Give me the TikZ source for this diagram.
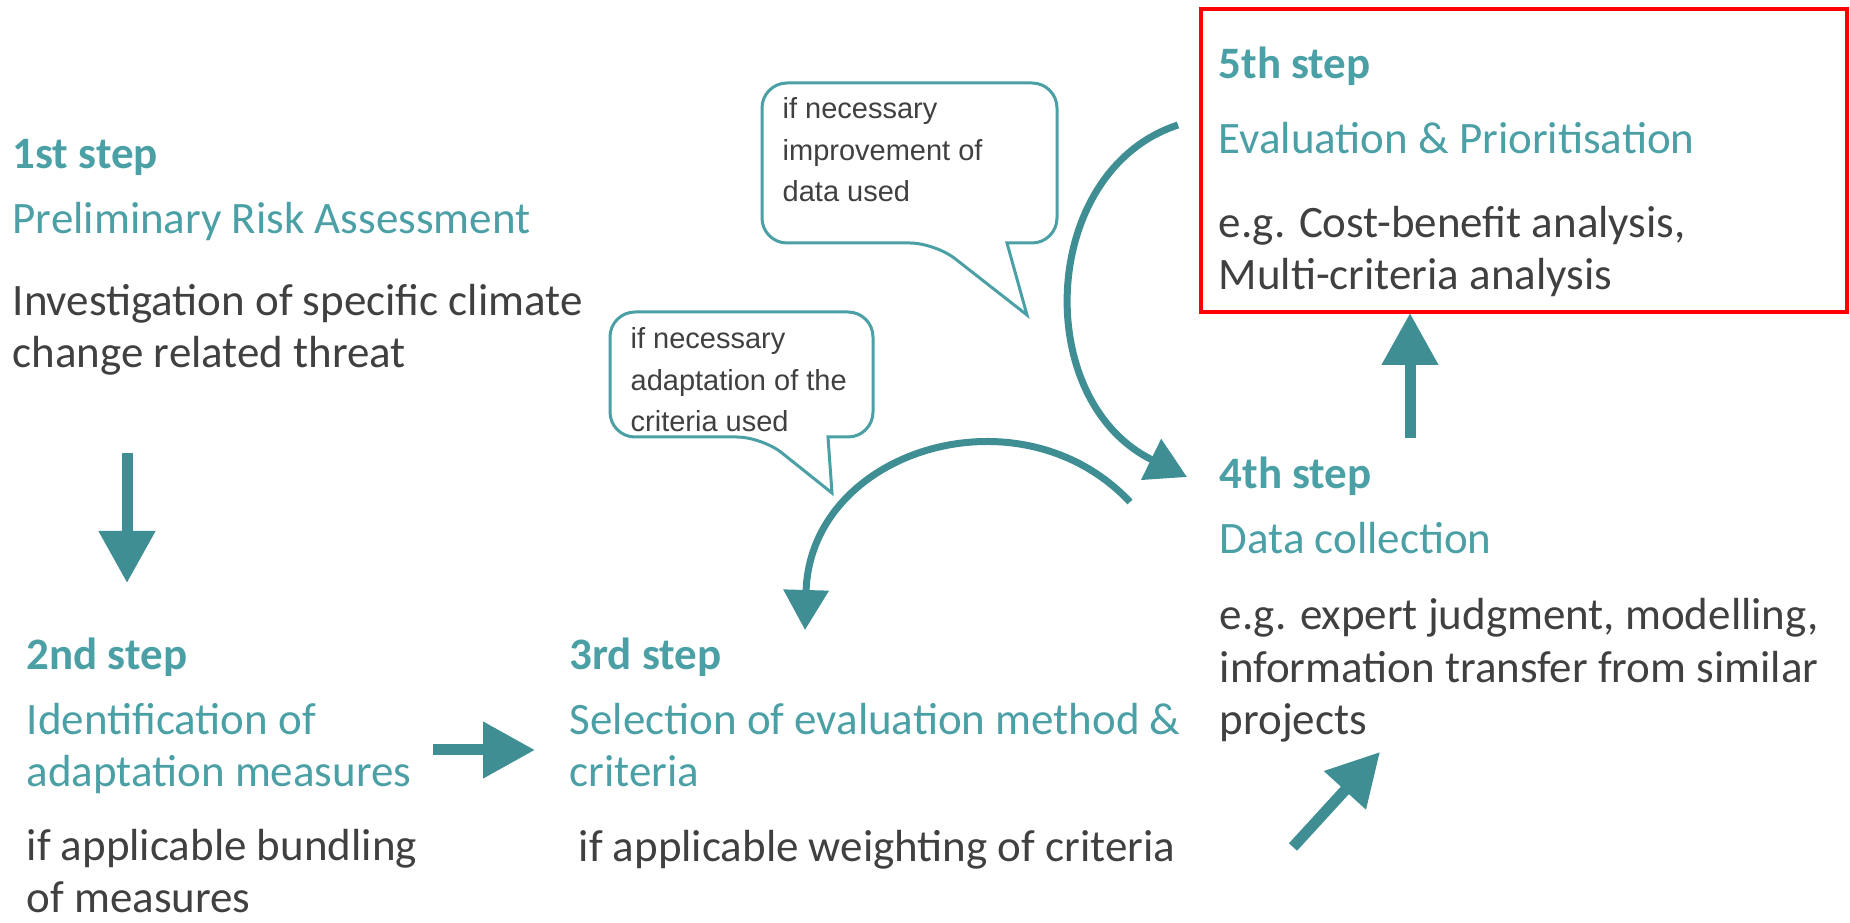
\documentclass[tikz,border=0pt]{standalone}
\usepackage{fontspec}
\setmainfont{Carlito}
\newfontfamily\notefont{Liberation Sans}
\usetikzlibrary{arrows.meta}

\definecolor{stepteal}{RGB}{75,160,166}
\definecolor{textgray}{RGB}{64,64,64}
\definecolor{arrowteal}{RGB}{62,142,148}

\tikzset{
  stephead/.style={anchor=base west, inner sep=0pt, text=stepteal,
    font=\bfseries\fontsize{12.8}{15}\selectfont},
  stepname/.style={anchor=base west, inner sep=0pt, text=stepteal, align=left,
    font=\fontsize{12.8}{15}\selectfont},
  stepinfo/.style={anchor=base west, inner sep=0pt, text=textgray, align=left,
    font=\fontsize{12.8}{15}\selectfont},
  notebox/.style={draw=stepteal, line width=0.3mm, fill=white},
  notetext/.style={anchor=base west, inner sep=0pt, text=textgray, align=left,
    font=\notefont\fontsize{8.25}{11.9}\selectfont},
  bigarrow/.style={draw=arrowteal, line width=1.1mm,
    -{Triangle[length=5.2mm,width=5.4mm]}},
  bendarrow/.style={draw=arrowteal, line width=0.7mm,
    -{Triangle[length=4mm,width=4.4mm]}}
}

\begin{document}
\begin{tikzpicture}[x=0.1mm, y=-0.1mm]
  \useasboundingbox (0,0) rectangle (1850,923);

  % step 1 (multi-line nodes sit on their last baseline)
  \node[stephead] (s1h) at (12,169) {1st step};
  \node[stepname] (s1t) at (12,234) {Preliminary Risk Assessment};
  \node[stepinfo] (s1d) at (12,368) {Investigation of specific climate\\change related threat};

  % step 2
  \node[stephead] (s2h) at (26,670) {2nd step};
  \node[stepname] (s2t) at (26,787) {Identification of\\adaptation measures};
  \node[stepinfo] (s2d) at (26,913) {if applicable bundling\\of measures};

  % step 3
  \node[stephead] (s3h) at (569,670) {3rd step};
  \node[stepname] (s3t) at (569,787) {Selection of evaluation method \&\\criteria};
  \node[stepinfo] (s3d) at (578,861) {if applicable weighting of criteria};

  % step 4
  \node[stephead] (s4h) at (1219,489) {4th step};
  \node[stepname] (s4t) at (1219,554) {Data collection};
  \node[stepinfo] (s4d) at (1219,735) {e.g. expert judgment, modelling,\\information transfer from similar\\projects};

  % step 5
  \draw[red, line width=0.35mm] (1201,9) rectangle (1847,312);
  \node[stephead] (s5h) at (1218,79) {5th step};
  \node[stepname] (s5t) at (1218,154) {Evaluation \& Prioritisation};
  \node[stepinfo] (s5d) at (1218,290) {e.g. Cost-benefit analysis,\\Multi-criteria analysis};

  % bulles
  \draw[notebox] (1007,243) [rounded corners=2.5mm] -- (1057,243) -- (1057,83)
    -- (762,83) -- (762,243) -- (935,243) [sharp corners] -- (1027,315) -- cycle;
  \node[notetext] (n1) at (782,202) {if necessary\\improvement of\\data used};

  \draw[notebox] (828,437) [rounded corners=2.5mm] -- (873,437) -- (873,312)
    -- (610,312) -- (610,437) -- (762,437) [sharp corners] -- (832,493) -- cycle;
  \node[notetext] (n2) at (630,432) {if necessary\\adaptation of the\\criteria used};

  % fleches
  \coordinate (a1) at (127,453);  \coordinate (b1) at (127,583);
  \coordinate (a2) at (433,750);  \coordinate (b2) at (535,750);
  \coordinate (a3) at (1293,847); \coordinate (b3) at (1380,752);
  \coordinate (a4) at (1410,438); \coordinate (b4) at (1410,313);
  \draw[bigarrow] (a1) -- (b1);
  \draw[bigarrow] (a2) -- (b2);
  \draw[bigarrow] (a3) -- (b3);
  \draw[bigarrow] (a4) -- (b4);

  % boucles
  \coordinate (a5) at (1178,125);  \coordinate (b5) at (1187,477);
  \coordinate (a6) at (1130,502);  \coordinate (b6) at (805,630);
  \draw[bendarrow] (a5) .. controls (1040,170) and (1030,400) .. (b5);
  \draw[bendarrow] (a6) .. controls (1020,385) and (810,450) .. (b6);
\end{tikzpicture}
\end{document}
